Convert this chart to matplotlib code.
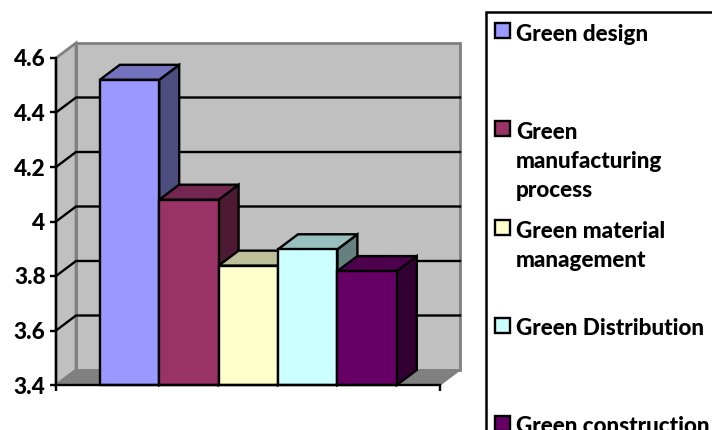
import matplotlib
matplotlib.use("Agg")
import matplotlib.pyplot as plt
from matplotlib.patches import Polygon, Rectangle
from matplotlib.lines import Line2D

categories = ["Green design", "Green\nmanufacturing\nprocess", "Green material\nmanagement",
              "Green Distribution", "Green construction"]
values = [4.52, 4.08, 3.838, 3.898, 3.818]
colors = ["#9999FF", "#993366", "#FFFFCC", "#CCFFFF", "#660066"]
side_colors = ["#4D4D80", "#4D1A33", "#808066", "#668080", "#330033"]
top_colors = ["#7373BF", "#732650", "#BFBF99", "#99BFBF", "#4D004D"]
yticks = [3.4, 3.6, 3.8, 4.0, 4.2, 4.4, 4.6]
ytick_labels = ["3.4", "3.6", "3.8", "4", "4.2", "4.4", "4.6"]

W, H = 712, 430
FONT = "Lato"
fig = plt.figure(figsize=(W / 100, H / 100), dpi=100, facecolor="white")
L, R, T, B = 56, 440, 58, 385
ax = fig.add_axes([L / W, 1 - B / H, (R - L) / W, (B - T) / H])
ax.set_facecolor("none")
unit_px = 59.4
ax.set_xlim((L - 129.5) / unit_px, (R - 129.5) / unit_px)
ax.set_ylim(3.4, 4.6)
x0, x1 = ax.get_xlim()
dx = 20 / unit_px
dy = 15 / ((B - T) / 1.2)
BLACK = "#000000"
LW = 1.7


def poly(pts, fc, ec=BLACK, lw=LW, z=1):
    ax.add_patch(Polygon(pts, closed=True, facecolor=fc, edgecolor=ec, linewidth=lw,
                         zorder=z, clip_on=False, joinstyle="miter"))


# walls and floor
poly([(x0 + dx, 3.4 + dy), (x1 + dx, 3.4 + dy), (x1 + dx, 4.6 + dy), (x0 + dx, 4.6 + dy)],
     "#C0C0C0", ec="#808080", lw=2, z=1)
poly([(x0, 3.4), (x0 + dx, 3.4 + dy), (x0 + dx, 4.6 + dy), (x0, 4.6)],
     "#C0C0C0", ec="#808080", lw=2, z=1)
poly([(x0, 3.4), (x1, 3.4), (x1 + dx, 3.4 + dy), (x0 + dx, 3.4 + dy)],
     "#808080", ec="#808080", lw=1, z=1)

# gridlines on the walls
for v in yticks[1:-1]:
    ax.plot([x0, x0 + dx, x1 + dx], [v, v + dy, v + dy], color=BLACK, lw=LW, zorder=2,
            clip_on=False, solid_joinstyle="miter")

# bars
w = 1.0
for i, v in enumerate(values):
    z = 3 + i
    xl, xr = i - w / 2, i + w / 2
    poly([(xr, 3.4), (xr + dx, 3.4 + dy), (xr + dx, v + dy), (xr, v)], side_colors[i], z=z)
    poly([(xl, v), (xr, v), (xr + dx, v + dy), (xl + dx, v + dy)], top_colors[i], z=z)
    ax.bar(i, v - 3.4, bottom=3.4, width=w, color=colors[i], edgecolor=BLACK, linewidth=LW,
           zorder=z + 0.5, clip_on=False)

# axes
for s in ("top", "right"):
    ax.spines[s].set_visible(False)
for s in ("left", "bottom"):
    ax.spines[s].set_linewidth(LW)
    ax.spines[s].set_color(BLACK)
    ax.spines[s].set_zorder(20)
ax.set_yticks(yticks)
ax.set_yticklabels(ytick_labels, fontfamily=FONT, fontweight="black", fontsize=16.3, color="#000000")
ax.tick_params(axis="y", length=4.5, width=LW, pad=3)
ax.set_xticks([x0, x1])
ax.set_xticklabels(["", ""])
ax.tick_params(axis="x", length=4.5, width=LW)

# legend
fig.add_artist(Line2D([486 / W, 486 / W, 1], [0, 1 - 12 / H, 1 - 12 / H],
                      color=BLACK, lw=1.8, transform=fig.transFigure,
                      solid_joinstyle="miter"))
legend_tops = [23, 121, 220, 318, 416]
legend_baselines = [[41], [139, 168, 197], [238, 267], [335], [433]]
for label, c, top, bases in zip(categories, colors, legend_tops, legend_baselines):
    fig.add_artist(Rectangle((495 / W, 1 - (top + 15) / H), 15 / W, 15 / H, facecolor=c,
                             edgecolor=BLACK, linewidth=1.7, transform=fig.transFigure))
    for line, b in zip(label.split("\n"), bases):
        fig.text(516 / W, 1 - b / H, line, fontfamily=FONT, fontweight="black", fontsize=16.2,
                 color="#000000", va="baseline", ha="left")

fig.savefig("out.png", dpi=100, facecolor="white")
